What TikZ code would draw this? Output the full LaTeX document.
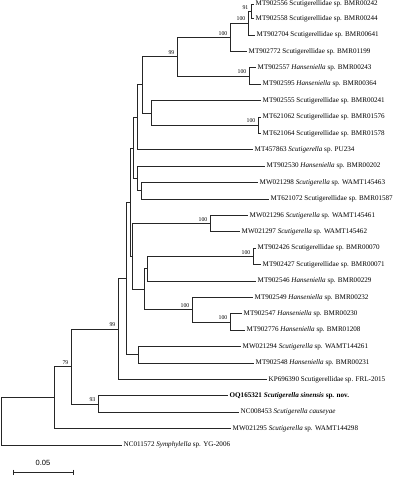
\documentclass[tikz,border=0pt]{standalone}
\usepackage{fontspec}
\setmainfont{Liberation Serif}
\newfontfamily\barfont{Liberation Sans}

\begin{document}
\begin{tikzpicture}[
  x=1pt, y=-1pt,
  branch/.style={line width=0.7pt, black!85},
  leaf/.style={anchor=west, inner sep=1.5pt, font=\fontsize{7.1}{8}\selectfont},
  boot/.style={anchor=south east, inner sep=0.5pt, xshift=-2pt, yshift=1.5pt, font=\fontsize{5.8}{6}\selectfont},
]
\useasboundingbox (0,0) rectangle (395,480);

% Taxa
\node[leaf] (t1)  at (254,4.0)   {MT902556 Scutigerellidae sp. BMR00242};
\node[leaf] (t2)  at (254,18.6)  {MT902558 Scutigerellidae sp. BMR00244};
\node[leaf] (t3)  at (255,35.0)  {MT902704 Scutigerellidae sp. BMR00641};
\node[leaf] (t4)  at (247,51.4)  {MT902772 Scutigerellidae sp. BMR01199};
\node[leaf] (t5)  at (256,67.8)  {MT902557 \textit{Hanseniella} sp. BMR00243};
\node[leaf] (t6)  at (261,84.2)  {MT902595 \textit{Hanseniella} sp. BMR00364};
\node[leaf] (t7)  at (261,100.6) {MT902555 Scutigerellidae sp. BMR00241};
\node[leaf] (t8)  at (261,117.0) {MT621062 Scutigerellidae sp. BMR01576};
\node[leaf] (t9)  at (261,133.4) {MT621064 Scutigerellidae sp. BMR01578};
\node[leaf] (t10) at (253,149.8) {MT457863 \textit{Scutigerella} sp. PU234};
\node[leaf] (t11) at (265,166.2) {MT902530 \textit{Hanseniella} sp. BMR00202};
\node[leaf] (t12) at (258,182.6) {MW021298 \textit{Scutigerella} sp. WAMT145463};
\node[leaf] (t13) at (269,199.0) {MT621072 Scutigerellidae sp. BMR01587};
\node[leaf] (t14) at (248,215.4) {MW021296 \textit{Scutigerella} sp. WAMT145461};
\node[leaf] (t15) at (240,231.8) {MW021297 \textit{Scutigerella} sp. WAMT145462};
\node[leaf] (t16) at (256,248.2) {MT902426 Scutigerellidae sp. BMR00070};
\node[leaf] (t17) at (261,264.6) {MT902427 Scutigerellidae sp. BMR00071};
\node[leaf] (t18) at (256,281.0) {MT902546 \textit{Hanseniella} sp. BMR00229};
\node[leaf] (t19) at (253,297.4) {MT902549 \textit{Hanseniella} sp. BMR00232};
\node[leaf] (t20) at (242,313.8) {MT902547 \textit{Hanseniella} sp. BMR00230};
\node[leaf] (t21) at (245,330.2) {MT902776 \textit{Hanseniella} sp. BMR01208};
\node[leaf] (t22) at (241,346.6) {MW021294 \textit{Scutigerella} sp. WAMT144261};
\node[leaf] (t23) at (254,363.0) {MT902548 \textit{Hanseniella} sp. BMR00231};
\node[leaf] (t24) at (267,379.4) {KP696390 Scutigerellidae sp. FRL-2015};
\node[leaf] (t25) at (228,395.8) {\bfseries OQ165321 \textit{Scutigerella sinensis} sp. nov.};
\node[leaf] (t26) at (239,412.2) {NC008453 \textit{Scutigerella causeyae}};
\node[leaf] (t27) at (231,428.6) {MW021295 \textit{Scutigerella} sp. WAMT144298};
\node[leaf] (t28) at (122,445.0) {NC011572 \textit{Symphylella} sp. YG-2006};

% Internal nodes
\coordinate (n91)  at (251,11.3);
\coordinate (nc)   at (248,23.15);
\coordinate (na)   at (230,37.3);
\coordinate (nb)   at (249,76.0);
\coordinate (n99)  at (177,56.65);
\coordinate (nd)   at (258,125.2);
\coordinate (H)    at (151,112.9);
\coordinate (I)    at (142,84.8);
\coordinate (J)    at (137,117.3);
\coordinate (M)    at (141,190.8);
\coordinate (L)    at (137,178.5);
\coordinate (K)    at (133,147.9);
\coordinate (ne)   at (210,223.6);
\coordinate (ng)   at (253,256.4);
\coordinate (R)    at (147,268.7);
\coordinate (nh)   at (230,322.0);
\coordinate (nf)   at (192,309.7);
\coordinate (Q)    at (144,289.2);
\coordinate (P)    at (132,256.4);
\coordinate (N)    at (130,202.15);
\coordinate (G)    at (138,354.8);
\coordinate (E)    at (126,278.5);
\coordinate (C)    at (118,328.9);
\coordinate (D)    at (98,404.0);
\coordinate (B)    at (71,366.5);
\coordinate (A)    at (54,397.5);
\coordinate (root) at (1,421.3);

% Branches
\foreach \p/\c in {root/A, root/t28, A/B, A/t27, B/C, B/D, D/t25, D/t26,
  C/E, C/t24, E/N, E/G, G/t22, G/t23, N/K, N/P, K/J, K/L, J/I, J/t10,
  I/n99, I/H, n99/na, n99/nb, na/nc, na/t4, nc/n91, nc/t3, n91/t1, n91/t2,
  nb/t5, nb/t6, H/t7, H/nd, nd/t8, nd/t9, L/t11, L/M, M/t12, M/t13,
  P/ne, P/Q, ne/t14, ne/t15, Q/R, Q/nf, R/ng, R/t18, ng/t16, ng/t17,
  nf/t19, nf/nh, nh/t20, nh/t21}
  \draw[branch] (\p) |- (\c);

% Bootstrap values
\foreach \n/\v in {n91/91, nc/100, na/100, n99/99, nb/100, nd/100, ne/100,
  ng/100, nf/100, nh/100, C/99, B/79, D/93}
  \node[boot] (b\n) at (\n) {\v};

% Scale bar
\coordinate (s0) at (13,472);
\coordinate (s1) at (73,472);
\draw[branch] (s0) -- (s1);
\draw[branch] ([yshift=2.5pt]s0) -- ([yshift=-2.5pt]s0);
\draw[branch] ([yshift=2.5pt]s1) -- ([yshift=-2.5pt]s1);
\node[font=\barfont\fontsize{7.5}{8}\selectfont] (sl) at (43,463) {0.05};
\end{tikzpicture}
\end{document}
